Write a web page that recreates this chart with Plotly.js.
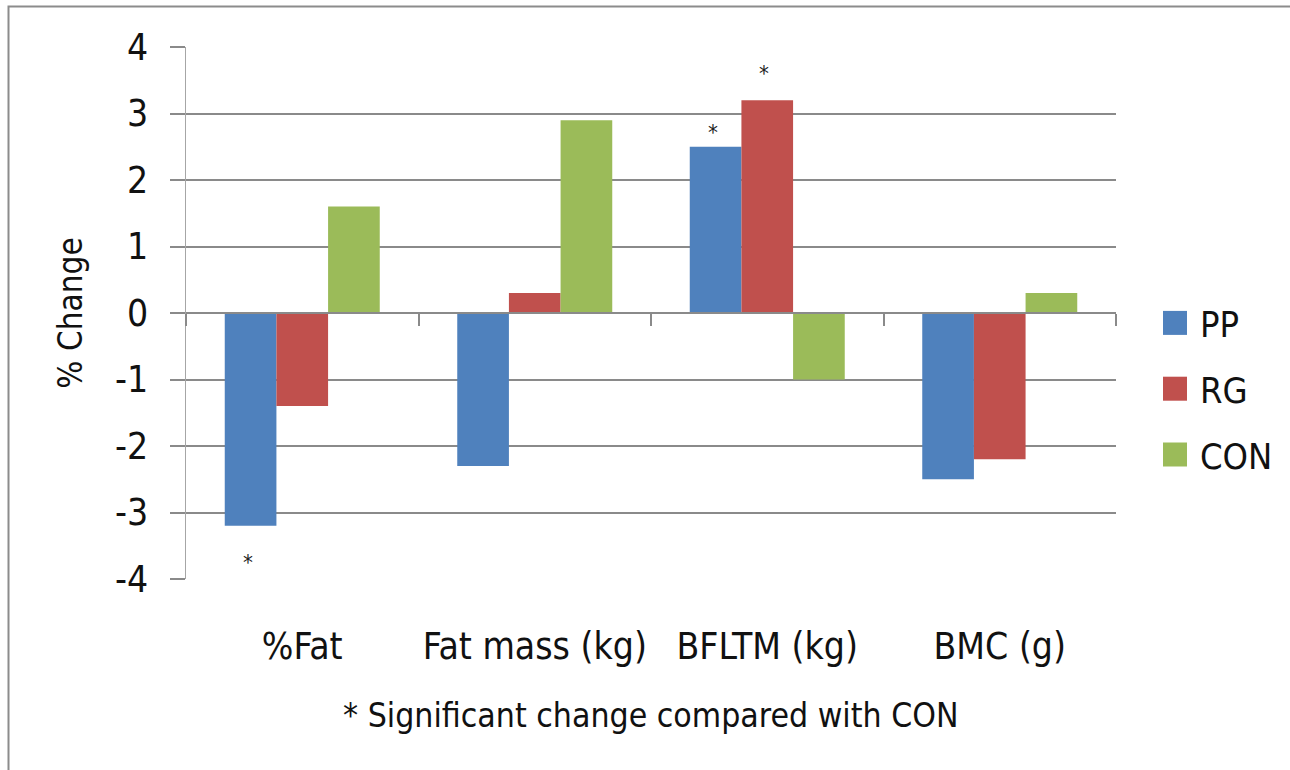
<!DOCTYPE html>
<html>
<head>
<meta charset="utf-8">
<script src="https://cdn.plot.ly/plotly-3.0.1.min.js"></script>
<style>
  html, body { margin: 0; padding: 0; background: #ffffff; }
  #chart { width: 1290px; height: 770px; }
</style>
</head>
<body>
<div id="chart"></div>
<script>
// ---- data ----
const categories = ["%Fat", "Fat mass (kg)", "BFLTM (kg)", "BMC (g)"];
const seriesNames = ["PP", "RG", "CON"];
const ppValues  = [-3.2, -2.3, 2.5, -2.5];
const rgValues  = [-1.4, 0.3, 3.2, -2.2];
const conValues = [1.6, 2.9, -1.0, 0.3];
const seriesColors = ["#4F81BD", "#C0504D", "#9BBB59"];
const yTickValues = [-4, -3, -2, -1, 0, 1, 2, 3, 4];
const yTickLabels = ["-4", "-3", "-2", "-1", "0", "1", "2", "3", "4"];
// significance markers: category, series index, y position of the asterisk
const sigCategory = ["%Fat", "BFLTM (kg)", "BFLTM (kg)"];
const sigSeries   = [0, 0, 1];
const sigY        = [-3.75, 2.72, 3.6];
const footnote = "* Significant change compared with CON";
const yTitle = "% Change";

const FONT = '"Liberation Sans Narrow", "Arial Narrow", "DejaVu Sans Condensed", sans-serif';
const GRID = "#8a8a8a";

const allValues = [ppValues, rgValues, conValues];
const traces = allValues.map((vals, i) => ({
  type: "bar",
  name: seriesNames[i],
  x: categories,
  y: vals,
  legendgroup: seriesNames[i],
  marker: { color: seriesColors[i], line: { width: 0 } },
  hoverinfo: "x+y+name"
}));
// helper trace so the zero-line category axis (with boundary ticks) is drawn
traces.push({
  type: "scatter", mode: "markers", x: categories, y: categories.map(() => null),
  xaxis: "x2", showlegend: false, hoverinfo: "skip", marker: { opacity: 0 }
});

// plot area geometry
const W = 1290, H = 770, L = 186, R = 174, T = 47, B = 191;
const pw = W - L - R, ph = H - T - B;
const px = v => (v - L) / pw;
const py = v => (H - B - v) / ph;

const groupWidth = pw / categories.length * (1 - 1/3);
const barW = groupWidth / 3;

const annotations = sigCategory.map((c, i) => ({
  x: c, y: sigY[i], xref: "x", yref: "y",
  text: "*", showarrow: false,
  xshift: (sigSeries[i] - 1) * barW - 3,
  font: { family: FONT, size: 22, color: "#222222" }
}));
annotations.push({
  x: px(650), y: py(715), xref: "paper", yref: "paper",
  text: footnote, showarrow: false, xanchor: "center", yanchor: "middle",
  font: { family: FONT, size: 33.5, color: "#111" }
});

const layout = {
  width: W, height: H,
  margin: { l: L, r: R, t: T, b: B, pad: 0, autoexpand: false },
  paper_bgcolor: "#ffffff", plot_bgcolor: "#ffffff",
  barmode: "group", bargap: 1/3, bargroupgap: 0,
  font: { family: FONT, color: "#111" },
  showlegend: true,
  legend: {
    x: px(1160), y: py(389), xanchor: "left", yanchor: "middle",
    font: { family: FONT, size: 36, color: "#111" },
    tracegroupgap: 16, itemwidth: 30, bgcolor: "rgba(0,0,0,0)"
  },
  xaxis: {
    type: "category", categoryorder: "array", categoryarray: categories,
    range: [-0.5, categories.length - 0.5],
    showgrid: false, zeroline: false, showline: false, ticks: "",
    ticklabelstandoff: 42,
    tickfont: { family: FONT, size: 37, color: "#111" },
    fixedrange: true
  },
  xaxis2: {
    type: "category", categoryorder: "array", categoryarray: categories,
    range: [-0.5, categories.length - 0.5],
    overlaying: "x", anchor: "free", position: 0.5,
    showline: true, linecolor: GRID, linewidth: 2,
    ticks: "outside", tickson: "boundaries", ticklen: 12, tickwidth: 2, tickcolor: GRID,
    showticklabels: false, showgrid: false, zeroline: false, fixedrange: true
  },
  yaxis: {
    range: [-4, 4], tickvals: yTickValues, ticktext: yTickLabels,
    showgrid: true, gridcolor: GRID, gridwidth: 2,
    zeroline: false,
    showline: true, linecolor: "#a6a6a6", linewidth: 1.5,
    ticks: "outside", ticklen: 15, tickwidth: 2, tickcolor: GRID,
    ticklabelstandoff: 14,
    tickfont: { family: FONT, size: 37, color: "#111" },
    title: { text: yTitle, font: { family: FONT, size: 33, color: "#111" }, standoff: 22 },
    fixedrange: true
  },
  shapes: [{
    type: "rect", xref: "paper", yref: "paper",
    x0: px(8.5), x1: px(1400), y0: py(900), y1: py(6.5),
    line: { color: "#8c8c8c", width: 2 }, fillcolor: "rgba(0,0,0,0)", layer: "below"
  }],
  annotations: annotations
};

Plotly.newPlot("chart", traces, layout, { displayModeBar: false, staticPlot: true }).then(() => {
  // enlarge legend swatches to match the reference
  document.querySelectorAll("#chart .legend .legendpoints path").forEach(p => {
    p.setAttribute("d", "M12,12H-12V-12H12Z");
    p.setAttribute("transform", "translate(15,0)");
  });
});
</script>
</body>
</html>
